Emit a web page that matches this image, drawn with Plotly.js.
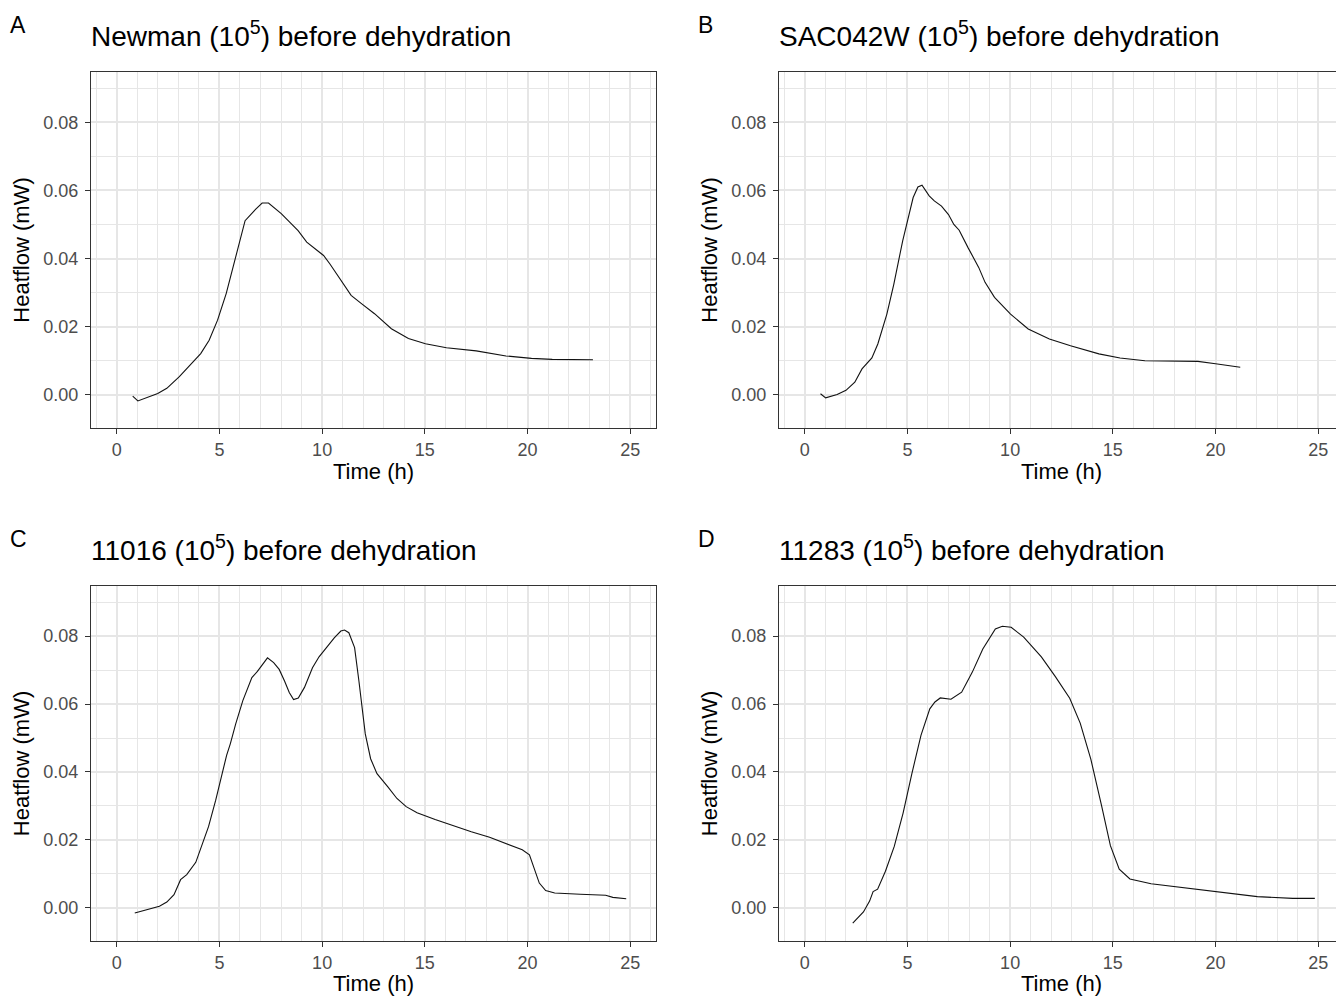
<!DOCTYPE html>
<html>
<head>
<meta charset="utf-8">
<script src="https://cdn.plot.ly/plotly-3.0.1.min.js"></script>
<style>
html,body{margin:0;padding:0;overflow:hidden;background:#fff;}
#chart{width:1350px;height:996px;}
</style>
</head>
<body>
<div id="chart"></div>
<script>
// ---- Data ----
const panelLetters = ["A", "B", "C", "D"];
const panelTitles = [
  "Newman (10<sup>5</sup>) before dehydration",
  "SAC042W (10<sup>5</sup>) before dehydration",
  "11016 (10<sup>5</sup>) before dehydration",
  "11283 (10<sup>5</sup>) before dehydration"
];
const xTickVals = [0, 5, 10, 15, 20, 25];
const yTickVals = [0.00, 0.02, 0.04, 0.06, 0.08];
const yTickText = ["0.00", "0.02", "0.04", "0.06", "0.08"];

const timeA = [0.78,1.03,2.0,2.44,3.05,3.57,4.09,4.5,4.91,5.33,5.74,6.25,6.77,7.08,7.39,8.01,8.42,8.83,9.25,9.66,10.07,10.38,10.9,11.41,11.93,12.55,13.37,14.2,15.03,16.05,17.5,18.95,20.19,21.2,23.18];
const heatA = [-0.0004,-0.0018,0.0004,0.0019,0.0053,0.0087,0.0121,0.016,0.0219,0.0297,0.0394,0.0511,0.0545,0.0563,0.0563,0.0532,0.0507,0.0482,0.0448,0.0428,0.0409,0.0384,0.0336,0.0292,0.0267,0.0238,0.0194,0.0165,0.015,0.0138,0.0129,0.0114,0.0107,0.0104,0.0103];

const timeB = [0.77,1.02,1.58,2.01,2.44,2.79,3.27,3.56,4.0,4.34,4.77,5.03,5.28,5.51,5.71,6.06,6.31,6.66,7.0,7.26,7.52,7.95,8.47,8.78,9.24,10.02,10.88,11.91,12.94,14.32,15.35,16.56,17.93,19.14,20.0,21.2];
const heatB = [0.0003,-0.0009,0.0001,0.0013,0.0037,0.0076,0.0108,0.0149,0.0237,0.0325,0.0452,0.052,0.0579,0.061,0.0615,0.0584,0.0569,0.0554,0.0529,0.05,0.0483,0.0432,0.0374,0.033,0.0286,0.0237,0.0193,0.0164,0.0144,0.012,0.0108,0.01,0.0099,0.0098,0.0091,0.0081];

const timeC = [0.88,1.55,2.08,2.44,2.79,3.11,3.41,3.85,4.2,4.47,4.82,5.08,5.35,5.53,5.79,6.14,6.58,6.85,7.11,7.34,7.64,7.91,8.17,8.4,8.61,8.84,9.14,9.53,9.85,10.2,10.59,10.91,11.09,11.3,11.58,11.79,11.97,12.1,12.36,12.67,13.2,13.64,14.09,14.62,15.5,16.38,17.26,18.15,19.03,19.74,20.09,20.3,20.57,20.88,21.32,22.56,23.8,24.15,24.8];
const heatC = [-0.0015,-0.0005,0.0005,0.0017,0.0039,0.0083,0.0098,0.0134,0.019,0.0239,0.0317,0.0385,0.0449,0.0483,0.0541,0.061,0.0678,0.0696,0.0717,0.0736,0.0722,0.0702,0.0668,0.0634,0.0613,0.0618,0.0649,0.0707,0.0739,0.0766,0.0795,0.0815,0.0818,0.081,0.0766,0.0668,0.0571,0.0512,0.0439,0.0395,0.0356,0.0322,0.0298,0.028,0.026,0.0241,0.0224,0.0208,0.0188,0.0171,0.0156,0.0122,0.0073,0.0051,0.0044,0.004,0.0037,0.0031,0.0027];

const timeD = [2.34,2.86,3.16,3.33,3.55,3.93,4.36,4.79,5.22,5.66,6.09,6.34,6.6,7.12,7.64,8.16,8.67,9.28,9.62,10.05,10.66,11.52,12.21,12.9,13.41,13.93,14.45,14.88,15.31,15.83,16.86,18.59,20.31,22.03,23.76,24.83];
const heatD = [-0.0045,-0.0012,0.002,0.0048,0.0055,0.0108,0.0181,0.0279,0.0396,0.0508,0.0586,0.0606,0.0618,0.0614,0.0635,0.0694,0.0762,0.0821,0.0829,0.0826,0.0797,0.0739,0.068,0.0617,0.0544,0.0437,0.0301,0.0183,0.0114,0.0085,0.0071,0.0058,0.0044,0.0033,0.0028,0.0028];

const times = [timeA, timeB, timeC, timeD];
const heats = [heatA, heatB, heatC, heatD];

// ---- Layout geometry (pixels) ----
const W = 1350, H = 996;
const boxes = [
  {x0: 91, x1: 656, y0: 72, y1: 428},
  {x0: 779, x1: 1344, y0: 72, y1: 428},
  {x0: 91, x1: 656, y0: 586, y1: 941},
  {x0: 779, x1: 1344, y0: 586, y1: 941}
];
const FONT = "Liberation Sans, Arial, Helvetica, sans-serif";
const GRID = "#e6e6e6";

const traces = [];
const layout = {
  width: W, height: H,
  margin: {l: 0, r: 0, t: 0, b: 0},
  paper_bgcolor: "#ffffff",
  plot_bgcolor: "#ffffff",
  showlegend: false,
  font: {family: FONT, color: "#000000"},
  annotations: []
};

for (let i = 0; i < 4; i++) {
  const b = boxes[i];
  const sfx = i === 0 ? "" : String(i + 1);
  traces.push({
    x: times[i], y: heats[i],
    type: "scatter", mode: "lines",
    line: {color: "#111111", width: 1.1},
    xaxis: "x" + sfx, yaxis: "y" + sfx,
    hoverinfo: "skip"
  });
  const common = {
    showline: true, mirror: true, linecolor: "#333333", linewidth: 1,
    ticks: "outside", ticklen: 5, tickwidth: 1, tickcolor: "#333333",
    tickfont: {family: FONT, size: 18, color: "#4d4d4d"},
    showgrid: true, gridcolor: GRID, gridwidth: 2,
    zeroline: false, fixedrange: true, layer: "below traces"
  };
  layout["xaxis" + sfx] = Object.assign({}, common, {
    domain: [b.x0 / W, b.x1 / W],
    anchor: "y" + sfx,
    range: [-1.25, 26.25],
    tickmode: "array", tickvals: xTickVals, ticktext: xTickVals.map(String),
    minor: {tickmode: "linear", dtick: 1, tick0: 0, showgrid: true, gridcolor: GRID, gridwidth: 1, ticks: ""},
    title: {text: "Time (h)", font: {family: FONT, size: 22, color: "#000000"}, standoff: 5}
  });
  layout["yaxis" + sfx] = Object.assign({}, common, {
    domain: [1 - b.y1 / H, 1 - b.y0 / H],
    anchor: "x" + sfx,
    range: [-0.00975, 0.09475],
    tickmode: "array", tickvals: yTickVals, ticktext: yTickText,
    minor: {tickmode: "linear", dtick: 0.01, tick0: 0, showgrid: true, gridcolor: GRID, gridwidth: 1, ticks: ""},
    ticklabelstandoff: 3,
    title: {text: "Heatflow (mW)", font: {family: FONT, size: 22, color: "#000000"}, standoff: 7}
  });
  // panel title
  layout.annotations.push({
    xref: "paper", yref: "paper",
    x: (b.x0 - 2) / W, y: 1 - (b.y0 - 18) / H,
    xanchor: "left", yanchor: "bottom",
    showarrow: false, text: panelTitles[i],
    font: {family: FONT, size: 28, color: "#000000"}
  });
  // panel letter
  layout.annotations.push({
    xref: "paper", yref: "paper",
    x: (b.x0 - 83) / W, y: 1 - (b.y0 - 32) / H,
    xanchor: "left", yanchor: "bottom",
    showarrow: false, text: panelLetters[i],
    font: {family: FONT, size: 23, color: "#000000"}
  });
}

Plotly.newPlot("chart", traces, layout, {displayModeBar: false, staticPlot: true});
</script>
</body>
</html>
